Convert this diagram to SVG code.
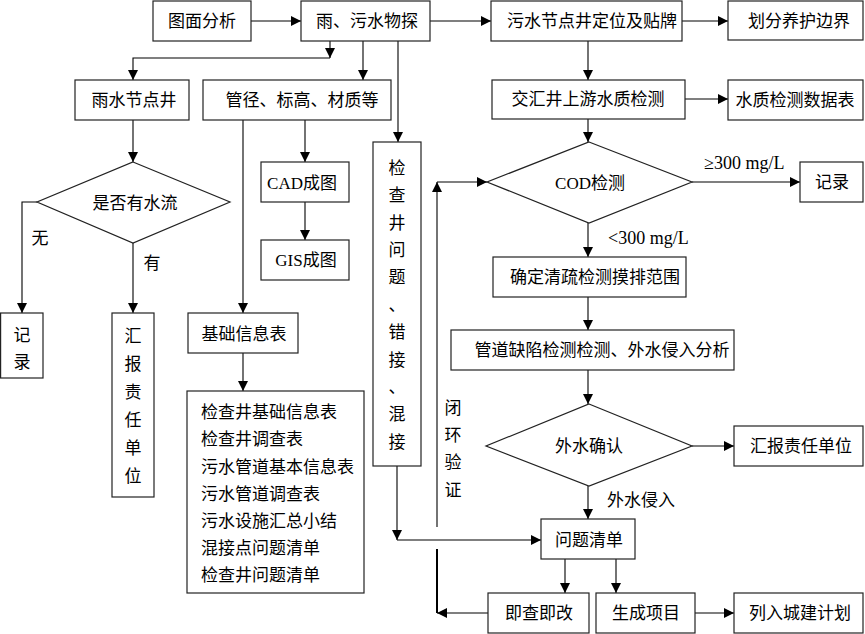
<svg xmlns="http://www.w3.org/2000/svg" width="865" height="634" viewBox="0 0 865 634">
<defs>
<marker id="ah" markerUnits="userSpaceOnUse" markerWidth="10" markerHeight="10" refX="10" refY="5" orient="auto">
<path d="M0,0 L10,5 L0,10 z" fill="#000"/>
</marker>
<style>
rect,polygon{fill:#fff;stroke:#222;stroke-width:1.2}
text{font-family:"Liberation Serif","Noto Sans CJK SC",serif;font-size:17px;fill:#000;dominant-baseline:central}
.c{text-anchor:middle}
.s{text-anchor:start}
.m{font-size:18px}
#connectors line,#connectors polyline{fill:none;stroke:#000;stroke-width:1.1}
.a{marker-end:url(#ah)}
</style>
</defs>
<rect x="0" y="0" width="865" height="634" style="fill:#fff;stroke:none"/>
<g id="connectors">
<line class="a" x1="251" y1="21" x2="301" y2="21"/>
<line class="a" x1="430" y1="21" x2="491" y2="21"/>
<line class="a" x1="682" y1="21" x2="728" y2="21"/>
<line class="a" x1="588" y1="41" x2="588" y2="80"/>
<line class="a" x1="685" y1="99" x2="728" y2="99"/>
<line class="a" x1="588" y1="119" x2="588" y2="142"/>
<line class="a" x1="692" y1="182" x2="800" y2="182"/>
<line class="a" x1="588" y1="223" x2="588" y2="257"/>
<line class="a" x1="588" y1="297" x2="588" y2="330"/>
<line class="a" x1="588" y1="370" x2="588" y2="404"/>
<line class="a" x1="692" y1="446" x2="734" y2="446"/>
<line class="a" x1="588" y1="486" x2="588" y2="519"/>
<line class="a" x1="565" y1="559" x2="565" y2="593"/>
<line class="a" x1="616" y1="559" x2="616" y2="593"/>
<line class="a" x1="695" y1="613" x2="734" y2="613"/>
<line class="a" x1="488" y1="613" x2="437" y2="613"/>
<line x1="437" y1="613" x2="437" y2="549" style="stroke-width:2"/>
<line class="a" x1="437" y1="527" x2="437" y2="182"/>
<line class="a" x1="437" y1="182" x2="487" y2="182"/>
<line class="a" x1="398" y1="41" x2="398" y2="142"/>
<line class="a" x1="397" y1="466" x2="397" y2="540"/>
<line class="a" x1="397" y1="540" x2="541" y2="540"/>
<line class="a" x1="363" y1="41" x2="363" y2="80"/>
<line class="a" x1="330" y1="41" x2="330" y2="58"/>
<polyline class="a" points="330,58 133,58 133,80"/>
<line class="a" x1="133" y1="120" x2="133" y2="162"/>
<polyline class="a" points="37,202 22,202 22,313"/>
<line class="a" x1="133" y1="243" x2="133" y2="313"/>
<line class="a" x1="243" y1="120" x2="243" y2="313"/>
<line class="a" x1="305" y1="120" x2="305" y2="162"/>
<line class="a" x1="305" y1="202" x2="305" y2="240"/>
<line class="a" x1="243" y1="353" x2="243" y2="391"/>
</g>
<g id="n-tumian"><rect x="153" y="1" width="98" height="40"/><text class="c" x="202" y="21">图面分析</text></g>
<g id="n-wutan"><rect x="301" y="1" width="129" height="40"/><text class="c" x="367" y="21">雨、污水物探</text></g>
<g id="n-wushui"><rect x="491" y="1" width="191" height="40"/><text class="c" x="592" y="21">污水节点井定位及贴牌</text></g>
<g id="n-huafen"><rect x="728" y="1" width="135" height="39"/><text class="c" x="799" y="21">划分养护边界</text></g>
<g id="n-jiaohui"><rect x="492" y="80" width="193" height="39"/><text class="c" x="588" y="99">交汇井上游水质检测</text></g>
<g id="n-shuizhi"><rect x="728" y="80" width="135" height="40"/><text class="c" x="795" y="100">水质检测数据表</text></g>
<g id="n-yushui"><rect x="75" y="80" width="114" height="40"/><text class="c" x="134" y="100">雨水节点井</text></g>
<g id="n-guanjing"><rect x="203" y="80" width="188" height="40"/><text class="c" x="302" y="100">管径、标高、材质等</text></g>
<g id="n-cad"><rect x="261" y="162" width="88" height="40"/><text class="c" x="302" y="183">CAD成图</text></g>
<g id="n-gis"><rect x="261" y="240" width="88" height="40"/><text class="c" x="306" y="260">GIS成图</text></g>
<g id="n-jiancha"><rect x="373" y="142" width="48" height="324"/>
<text class="c" x="397" y="168">检</text><text class="c" x="397" y="195">查</text><text class="c" x="397" y="223">井</text><text class="c" x="397" y="250">问</text><text class="c" x="397" y="277">题</text><text class="c" x="397" y="305">、</text><text class="c" x="397" y="332">错</text><text class="c" x="397" y="360">接</text><text class="c" x="397" y="387">、</text><text class="c" x="397" y="414">混</text><text class="c" x="397" y="442">接</text></g>
<g id="n-shifou"><polygon points="133,162 230,202 133,243 37,202"/><text class="c" x="135" y="203">是否有水流</text></g>
<g id="n-jilu1"><rect x="0.6" y="313" width="42.4" height="65"/><text class="c" x="22" y="335">记</text><text class="c" x="22" y="362">录</text></g>
<g id="n-huibao1"><rect x="112" y="313" width="42" height="184"/>
<text class="c" x="133" y="336">汇</text><text class="c" x="133" y="364">报</text><text class="c" x="133" y="392">责</text><text class="c" x="133" y="420">任</text><text class="c" x="133" y="448">单</text><text class="c" x="133" y="476">位</text></g>
<g id="n-jichu"><rect x="188" y="313" width="110" height="40"/><text class="c" x="244" y="334">基础信息表</text></g>
<g id="n-list"><rect x="187" y="391" width="177" height="202"/>
<text class="s" x="201" y="412">检查井基础信息表</text>
<text class="s" x="201" y="439">检查井调查表</text>
<text class="s" x="201" y="467">污水管道基本信息表</text>
<text class="s" x="201" y="494">污水管道调查表</text>
<text class="s" x="201" y="521">污水设施汇总小结</text>
<text class="s" x="201" y="548">混接点问题清单</text>
<text class="s" x="201" y="575">检查井问题清单</text></g>
<g id="n-cod"><polygon points="589,142 692,182 589,223 487,182"/><text class="c" x="590" y="183">COD检测</text></g>
<g id="n-jilu2"><rect x="800" y="162" width="63" height="40"/><text class="c" x="832" y="182">记录</text></g>
<g id="n-queding"><rect x="493" y="257" width="193" height="40"/><text class="c" x="595" y="277">确定清疏检测摸排范围</text></g>
<g id="n-guandao"><rect x="451" y="330" width="283" height="40"/><text class="c" x="602" y="350">管道缺陷检测检测、外水侵入分析</text></g>
<g id="n-waishui"><polygon points="589,404 692,446 589,486 486,446"/><text class="c" x="589" y="446">外水确认</text></g>
<g id="n-huibao2"><rect x="734" y="426" width="129" height="40"/><text class="c" x="801" y="446">汇报责任单位</text></g>
<g id="n-wenti"><rect x="541" y="519" width="94" height="40"/><text class="c" x="589" y="540">问题清单</text></g>
<g id="n-jicha"><rect x="488" y="593" width="101" height="40"/><text class="c" x="539" y="613">即查即改</text></g>
<g id="n-shengcheng"><rect x="596" y="593" width="99" height="40"/><text class="c" x="646" y="613">生成项目</text></g>
<g id="n-lieru"><rect x="734" y="593" width="129" height="40"/><text class="c" x="800" y="613">列入城建计划</text></g>
<g id="labels">
<text class="c" x="40" y="238">无</text>
<text class="c" x="152" y="263">有</text>
<text class="s m" x="704" y="163">≥300 mg/L</text>
<text class="s m" x="608" y="238">&lt;300 mg/L</text>
<text class="s" x="607" y="500">外水侵入</text>
<text class="c" x="453" y="408">闭</text><text class="c" x="453" y="435">环</text><text class="c" x="453" y="462">验</text><text class="c" x="453" y="490">证</text>
</g>
</svg>
